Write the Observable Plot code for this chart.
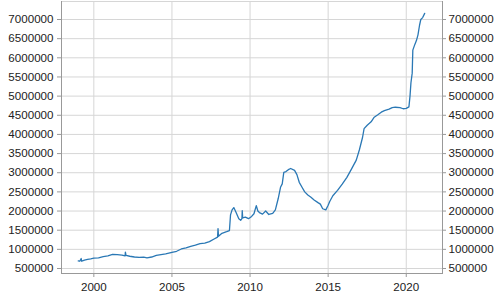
<!DOCTYPE html>
<html>
<head>
<meta charset="utf-8">
<script src="https://cdn.jsdelivr.net/npm/d3@7"></script>
<script src="https://cdn.jsdelivr.net/npm/@observablehq/plot@0.6"></script>
<style>
  html, body { margin: 0; padding: 0; background: #fff; }
  #chart svg { display: block; }
</style>
</head>
<body>
<div id="chart"></div>
<script>
// Decimal years and values
const years = [
  1999.00, 1999.10, 1999.19, 1999.22, 1999.40, 1999.60, 1999.80, 2000.00, 2000.30, 2000.60,
  2000.90, 2001.20, 2001.50, 2001.80, 2002.00, 2002.02, 2002.06, 2002.30, 2002.60, 2002.90,
  2003.20, 2003.40, 2003.70, 2004.00, 2004.30, 2004.60, 2005.00, 2005.30, 2005.60, 2005.90,
  2006.20, 2006.50, 2006.80, 2007.10, 2007.40, 2007.70, 2007.92, 2007.95, 2007.98, 2008.20,
  2008.50, 2008.68, 2008.75, 2008.85, 2008.96, 2009.10, 2009.28, 2009.40, 2009.48, 2009.50,
  2009.53, 2009.70, 2009.90, 2010.10, 2010.25, 2010.40, 2010.50, 2010.60, 2010.80, 2011.00,
  2011.20, 2011.45, 2011.62, 2011.80, 2011.95, 2012.06, 2012.16, 2012.30, 2012.45, 2012.60,
  2012.85, 2013.00, 2013.15, 2013.30, 2013.50, 2013.70, 2013.90, 2014.10, 2014.35, 2014.50,
  2014.65, 2014.85, 2015.00, 2015.10, 2015.30, 2015.60, 2015.90, 2016.20, 2016.50, 2016.80,
  2017.00, 2017.20, 2017.30, 2017.50, 2017.75, 2017.95, 2018.20, 2018.40, 2018.60, 2018.90,
  2019.10, 2019.30, 2019.60, 2019.80, 2020.00, 2020.17, 2020.24, 2020.30, 2020.38, 2020.42,
  2020.55, 2020.65, 2020.75, 2020.85, 2020.93, 2021.05, 2021.18
];
const values = [
  700000, 690000, 760000, 690000, 720000, 740000, 750000, 770000, 780000, 810000,
  830000, 870000, 860000, 850000, 830000, 930000, 840000, 820000, 800000, 790000,
  795000, 780000, 800000, 840000, 860000, 880000, 920000, 950000, 1010000, 1040000,
  1080000, 1110000, 1150000, 1160000, 1200000, 1270000, 1320000, 1540000, 1340000, 1420000,
  1460000, 1490000, 1900000, 2030000, 2090000, 1970000, 1800000, 1760000, 1800000, 2010000,
  1820000, 1840000, 1800000, 1860000, 1930000, 2140000, 2000000, 1960000, 1920000, 2000000,
  1910000, 1940000, 2030000, 2320000, 2620000, 2710000, 3010000, 3030000, 3080000, 3110000,
  3060000, 2950000, 2750000, 2640000, 2500000, 2420000, 2360000, 2290000, 2220000, 2180000,
  2060000, 2030000, 2150000, 2250000, 2400000, 2540000, 2700000, 2880000, 3100000, 3330000,
  3600000, 3920000, 4150000, 4240000, 4330000, 4450000, 4520000, 4580000, 4620000, 4660000,
  4700000, 4710000, 4700000, 4670000, 4680000, 4720000, 5000000, 5350000, 5600000, 6200000,
  6350000, 6450000, 6600000, 6850000, 7000000, 7050000, 7160000
];
const xTicks = [2000, 2005, 2010, 2015, 2020];
const yTicks = [500000, 1000000, 1500000, 2000000, 2500000, 3000000, 3500000,
                4000000, 4500000, 5000000, 5500000, 6000000, 6500000, 7000000];

const data = years.map((y, i) => ({year: y, value: values[i]}));
const fmt = d => String(d);

const chart = Plot.plot({
  width: 501,
  height: 306,
  marginTop: 1,
  marginLeft: 61,
  marginRight: 59,
  marginBottom: 33,
  style: {fontFamily: "'Liberation Sans', Arial, sans-serif", fontSize: "11.6px", color: "#222", background: "#fff"},
  x: {domain: [1997.93, 2022.32], label: null},
  y: {domain: [369500, 7470000], label: null},
  marks: [
    Plot.gridX(xTicks, {stroke: "#d6d6d6", strokeOpacity: 1}),
    Plot.gridY(yTicks, {stroke: "#d6d6d6", strokeOpacity: 1}),
    Plot.frame({stroke: "#d6d6d6"}),
    Plot.axisX({ticks: xTicks, tickFormat: fmt, tickSize: 4, tickPadding: 5, stroke: "#999", label: null}),
    Plot.axisY({anchor: "left", ticks: yTicks, tickFormat: fmt, tickSize: 4, tickPadding: 4, stroke: "#999", label: null}),
    Plot.axisY({anchor: "right", ticks: yTicks, tickFormat: fmt, tickSize: 3, tickPadding: 3, stroke: "#999", label: null}),
    Plot.frame({anchor: "left", stroke: "#999"}),
    Plot.frame({anchor: "right", stroke: "#999"}),
    Plot.frame({anchor: "bottom", stroke: "#999"}),
    Plot.line(data, {x: "year", y: "value", stroke: "#2a78b5", strokeWidth: 1.3})
  ]
});
document.getElementById("chart").appendChild(chart);
</script>
</body>
</html>
